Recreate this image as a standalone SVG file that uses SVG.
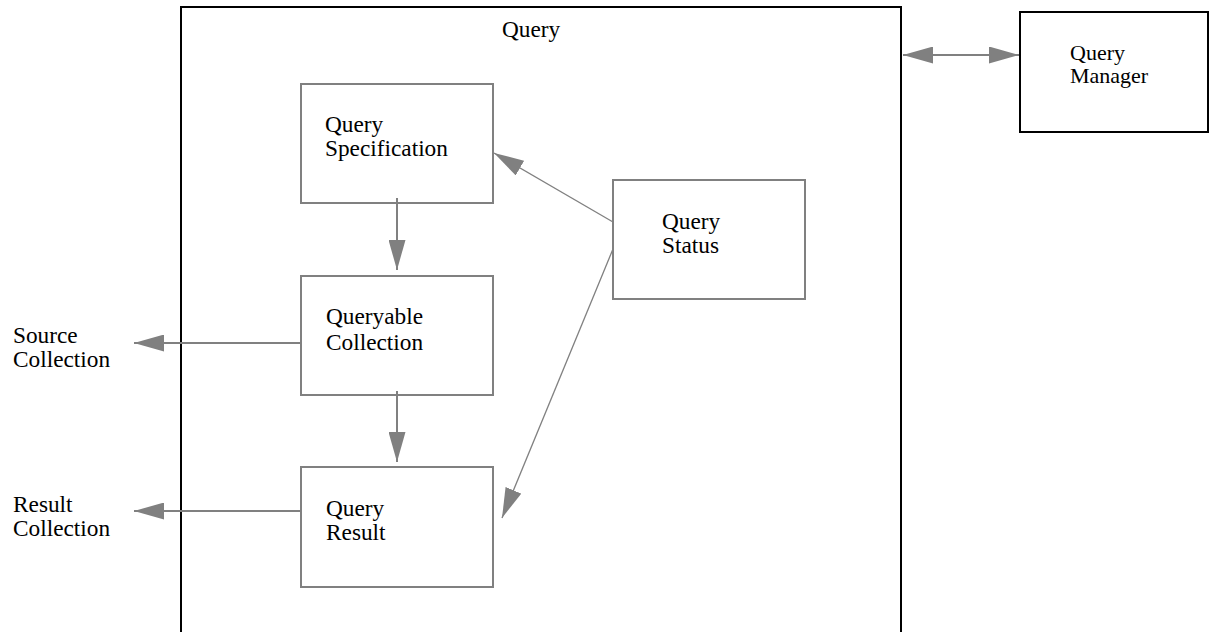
<svg xmlns="http://www.w3.org/2000/svg" width="1209" height="632" viewBox="0 0 1209 632">
<style>
  .t { font-family: "Liberation Serif", "Times New Roman", serif; font-size: 23.3px; fill: #000; }
  .s { font-size: 22px; }
  .box { fill: #fff; stroke: #808080; stroke-width: 2; }
  .outer { fill: none; stroke: #000; stroke-width: 2; }
  .conn { stroke: #808080; fill: none; }
</style>
<defs>
  <marker id="ah" viewBox="0 0 30 17" refX="30" refY="8.5" markerWidth="30" markerHeight="17" markerUnits="userSpaceOnUse" orient="auto-start-reverse">
    <path d="M0,0 L30,8.5 L0,17 Z" fill="#808080"/>
  </marker>
</defs>
<rect width="1209" height="632" fill="#fff"/>

<g id="query">
  <path class="outer" d="M181,640 L181,7 L901,7 L901,640"/>
  <text class="t" x="502" y="37">Query</text>
</g>

<g id="query-manager">
  <rect class="outer" x="1020" y="12" width="188" height="120"/>
  <text class="t s" x="1070" y="60">Query</text>
  <text class="t s" x="1070" y="83">Manager</text>
</g>

<g id="query-specification">
  <rect class="box" x="301" y="84" width="192" height="119"/>
  <text class="t" x="325" y="132">Query</text>
  <text class="t" x="325" y="156">Specification</text>
</g>

<g id="queryable-collection">
  <rect class="box" x="301" y="276" width="192" height="119"/>
  <text class="t" x="326" y="324">Queryable</text>
  <text class="t" x="326" y="350">Collection</text>
</g>

<g id="query-result">
  <rect class="box" x="301" y="467" width="192" height="120"/>
  <text class="t" x="326" y="516">Query</text>
  <text class="t" x="326" y="540">Result</text>
</g>

<g id="query-status">
  <rect class="box" x="613" y="180" width="192" height="119"/>
  <text class="t" x="662" y="229">Query</text>
  <text class="t" x="662" y="253">Status</text>
</g>

<g id="source-collection">
  <text class="t" x="13" y="343">Source</text>
  <text class="t" x="13" y="367">Collection</text>
</g>

<g id="result-collection">
  <text class="t" x="13" y="512">Result</text>
  <text class="t" x="13" y="536">Collection</text>
</g>

<g id="connectors">
  <line class="conn" stroke-width="2" x1="903" y1="55" x2="1019" y2="55" marker-start="url(#ah)" marker-end="url(#ah)"/>
  <line class="conn" stroke-width="2" x1="397" y1="198" x2="397" y2="270" marker-end="url(#ah)"/>
  <line class="conn" stroke-width="2" x1="397" y1="391" x2="397" y2="462" marker-end="url(#ah)"/>
  <line class="conn" stroke-width="1.3" x1="613" y1="222" x2="494" y2="153" marker-end="url(#ah)"/>
  <line class="conn" stroke-width="1.3" x1="613" y1="249" x2="502" y2="518" marker-end="url(#ah)"/>
  <line class="conn" stroke-width="2" x1="301" y1="343" x2="134" y2="343" marker-end="url(#ah)"/>
  <line class="conn" stroke-width="2" x1="301" y1="511" x2="134" y2="511" marker-end="url(#ah)"/>
</g>
</svg>
